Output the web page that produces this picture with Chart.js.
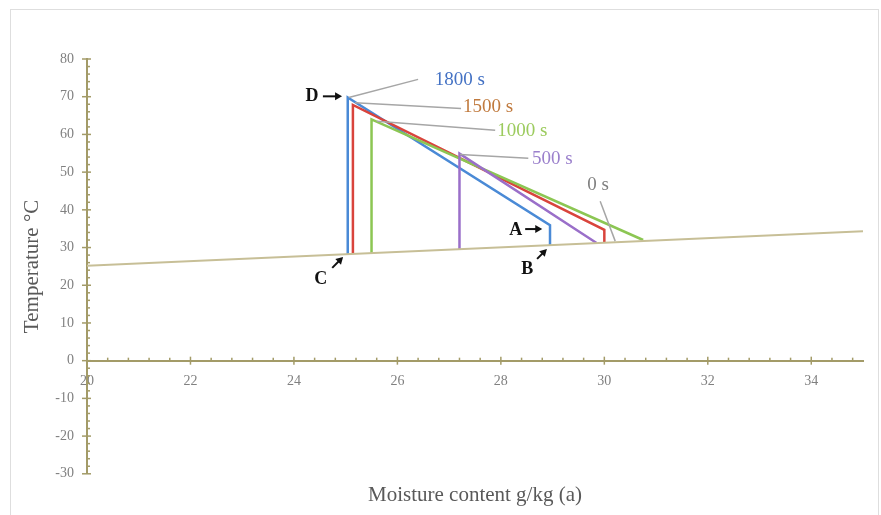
<!DOCTYPE html>
<html>
<head>
<meta charset="utf-8">
<script src="https://cdn.jsdelivr.net/npm/chart.js@4/dist/chart.umd.min.js"></script>
<style>
  html, body { margin: 0; padding: 0; background: #fff; }
  #frame { position: absolute; left: 10px; top: 9px; width: 867px; height: 520px; border: 1px solid #dedede; }
  #wrap { position: absolute; left: 0; top: 0; width: 881px; height: 515px; }
</style>
</head>
<body>
<div id="frame"></div>
<div id="wrap"><canvas id="chart"></canvas></div>
<script>
// axis ranges / ticks
const X_MIN = 20, X_MAX = 35, X_STEP = 2, X_MINOR = 0.4;
const Y_MIN = -30, Y_MAX = 80, Y_STEP = 10, Y_MINOR = 2;

// base line (state line along the bottom)
const baseX = [20, 35];
const baseY = [25.2, 34.3];

// process paths, one per time
const s1800X = [25.04, 25.04, 28.95, 28.95];
const s1800Y = [28.3, 69.8, 35.9, 30.6];
const s1500X = [25.14, 25.14, 30.0, 30.0];
const s1500Y = [28.3, 67.8, 34.7, 31.3];
const s1000X = [25.5, 25.5, 30.75];
const s1000Y = [28.5, 64.0, 32.0];
const s500X = [27.2, 27.2, 29.85];
const s500Y = [29.6, 54.9, 31.2];

// time labels: text, colour, leader line (from -> to), label anchor
const timeLabels = ['1800 s', '1500 s', '1000 s', '500 s', '0 s'];
const timeColors = ['#4472c4', '#c07a3e', '#9ccb5e', '#9b80cc', '#808080'];
const leadFromX = [25.06, 25.18, 25.6, 27.21, 30.21];
const leadFromY = [69.8, 68.4, 63.5, 54.7, 31.7];
const leadToX = [26.4, 27.23, 27.89, 28.53, 29.92];
const leadToY = [74.6, 66.9, 61.1, 53.7, 42.3];
const labelX = [26.72, 27.27, 27.93, 28.6, 29.88];
const labelY = [74.4, 67.2, 60.9, 53.4, 46.6];

// point letters with arrows
const letters = ['D', 'A', 'B', 'C'];
const letterX = [24.35, 28.29, 28.51, 24.52];
const letterY = [70.1, 34.6, 24.2, 21.6];
const arrowFromX = [24.56, 28.47, 28.7, 24.74];
const arrowFromY = [70.1, 34.9, 27.0, 24.6];
const arrowToX = [24.93, 28.8, 28.89, 24.95];
const arrowToY = [70.1, 34.9, 29.6, 27.5];

const AXIS_COLOR = '#a39b68';
const SERIF = '"Liberation Serif", "DejaVu Serif", serif';

const pts = (xs, ys) => xs.map((x, i) => ({ x, y: ys[i] }));

function lineSet(label, xs, ys, color, width) {
  return {
    label,
    data: pts(xs, ys),
    showLine: true,
    borderColor: color,
    backgroundColor: color,
    borderWidth: width,
    pointRadius: 0,
    tension: 0,
  };
}

const annotate = {
  id: 'annotate',
  afterDatasetsDraw(chart) {
    const { ctx, scales: { x, y } } = chart;
    const px = v => x.getPixelForValue(v);
    const py = v => y.getPixelForValue(v);
    ctx.save();

    // minor + major ticks on the axes
    ctx.strokeStyle = AXIS_COLOR;
    ctx.lineWidth = 1.5;
    const y0 = py(0), x0 = px(X_MIN);
    for (let v = X_MIN; v <= X_MAX + 1e-6; v += X_MINOR) {
      const major = Math.abs(v / X_STEP - Math.round(v / X_STEP)) < 1e-6;
      ctx.beginPath();
      ctx.moveTo(px(v), y0 + (major ? 4 : 0));
      ctx.lineTo(px(v), y0 - (major ? 4 : 3));
      ctx.stroke();
    }
    for (let v = Y_MIN; v <= Y_MAX + 1e-6; v += Y_MINOR) {
      const major = v % Y_STEP === 0;
      ctx.beginPath();
      ctx.moveTo(x0 - (major ? 5 : 0), py(v));
      ctx.lineTo(x0 + (major ? 4 : 3), py(v));
      ctx.stroke();
    }

    // leader lines and time labels
    ctx.strokeStyle = '#a6a6a6';
    ctx.lineWidth = 1.5;
    timeLabels.forEach((t, i) => {
      ctx.beginPath();
      ctx.moveTo(px(leadFromX[i]), py(leadFromY[i]));
      ctx.lineTo(px(leadToX[i]), py(leadToY[i]));
      ctx.stroke();
      ctx.fillStyle = timeColors[i];
      ctx.font = '19px ' + SERIF;
      ctx.textBaseline = 'middle';
      ctx.textAlign = t === '0 s' ? 'center' : 'left';
      ctx.fillText(t, px(labelX[i]), py(labelY[i]));
    });

    // letters and arrows
    ctx.fillStyle = '#111';
    ctx.strokeStyle = '#111';
    ctx.lineWidth = 2;
    letters.forEach((l, i) => {
      ctx.font = 'bold 18px ' + SERIF;
      ctx.textAlign = 'center';
      ctx.textBaseline = 'middle';
      ctx.fillText(l, px(letterX[i]), py(letterY[i]));
      const x1 = px(arrowFromX[i]), y1 = py(arrowFromY[i]);
      const x2 = px(arrowToX[i]), y2 = py(arrowToY[i]);
      const a = Math.atan2(y2 - y1, x2 - x1);
      ctx.beginPath();
      ctx.moveTo(x1, y1);
      ctx.lineTo(x2 - 4 * Math.cos(a), y2 - 4 * Math.sin(a));
      ctx.stroke();
      ctx.beginPath();
      ctx.moveTo(x2, y2);
      ctx.lineTo(x2 - 7 * Math.cos(a) + 4 * Math.sin(a), y2 - 7 * Math.sin(a) - 4 * Math.cos(a));
      ctx.lineTo(x2 - 7 * Math.cos(a) - 4 * Math.sin(a), y2 - 7 * Math.sin(a) + 4 * Math.cos(a));
      ctx.closePath();
      ctx.fill();
    });
    ctx.restore();
  }
};

new Chart(document.getElementById('chart'), {
  type: 'scatter',
  data: {
    datasets: [
      lineSet('base', baseX, baseY, '#c7bf97', 2),
      lineSet('500 s', s500X, s500Y, '#9a6fc9', 2.5),
      lineSet('1000 s', s1000X, s1000Y, '#8cc653', 2.5),
      lineSet('1500 s', s1500X, s1500Y, '#d9443c', 2.5),
      lineSet('1800 s', s1800X, s1800Y, '#4a8ad6', 2.5),
    ]
  },
  options: {
    responsive: true,
    maintainAspectRatio: false,
    animation: false,
    layout: { padding: { left: 0, right: 18, top: 59, bottom: 2 } },
    plugins: {
      legend: { display: false },
      tooltip: { enabled: false },
      title: {
        display: true,
        position: 'bottom',
        fullSize: false,
        text: 'Moisture content g/kg (a)',
        color: '#595959',
        font: { family: SERIF, size: 21, weight: 'normal' },
        padding: { top: 9, bottom: 5 },
      },
    },
    scales: {
      x: {
        type: 'linear',
        position: { y: 0 },
        min: X_MIN,
        max: X_MAX,
        grid: { display: true, drawOnChartArea: false, drawTicks: false },
        border: { color: AXIS_COLOR, width: 2 },
        ticks: {
          stepSize: X_STEP,
          includeBounds: false,
          padding: 12,
          color: '#808080',
          font: { family: SERIF, size: 14 },
          maxRotation: 0,
        },
      },
      y: {
        type: 'linear',
        min: Y_MIN,
        max: Y_MAX,
        afterFit: s => { s.width = 87; },
        grid: { display: true, drawOnChartArea: false, drawTicks: false },
        border: { color: AXIS_COLOR, width: 2 },
        ticks: {
          stepSize: Y_STEP,
          padding: 13,
          color: '#808080',
          font: { family: SERIF, size: 14 },
        },
        title: {
          display: true,
          text: 'Temperature °C',
          color: '#595959',
          font: { family: SERIF, size: 21 },
          padding: { top: 20, bottom: 0 },
        },
      },
    },
  },
  plugins: [annotate],
});
</script>
</body>
</html>
